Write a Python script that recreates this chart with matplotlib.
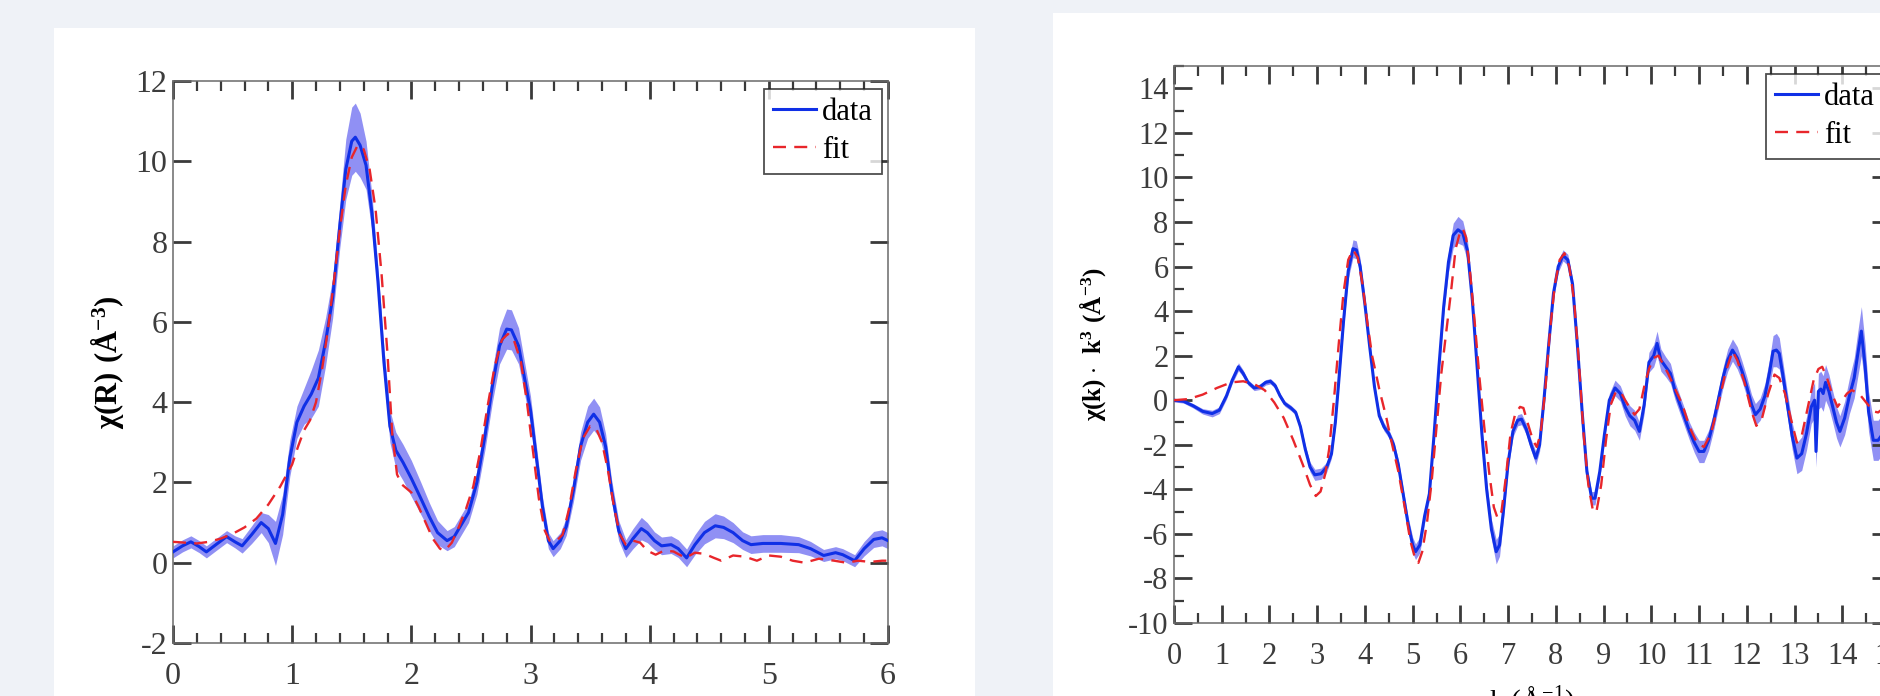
import numpy as np
import matplotlib
matplotlib.use("Agg")
import matplotlib.pyplot as plt
from matplotlib.patches import Rectangle
from matplotlib.ticker import MultipleLocator

plt.rcParams['font.family'] = ['Liberation Serif', 'DejaVu Serif']
plt.rcParams['mathtext.fontset'] = 'custom'
plt.rcParams['mathtext.rm'] = 'Liberation Serif'
plt.rcParams['mathtext.bf'] = 'Liberation Serif:bold'
plt.rcParams['axes.unicode_minus'] = False

# R-space: columns are R, |chi(R)| of data, half width of the shaded band
r_data = np.array([
    [0.00, 0.27, 0.15], [0.08, 0.42, 0.15], [0.15, 0.52, 0.15], [0.22, 0.40, 0.15],
    [0.28, 0.27, 0.15], [0.36, 0.45, 0.15], [0.45, 0.65, 0.15], [0.52, 0.52, 0.15],
    [0.58, 0.42, 0.18], [0.66, 0.70, 0.22], [0.74, 1.00, 0.25], [0.80, 0.85, 0.35],
    [0.86, 0.48, 0.55], [0.92, 1.20, 0.50], [0.98, 2.60, 0.45], [1.04, 3.50, 0.40],
    [1.10, 3.90, 0.45], [1.16, 4.20, 0.60], [1.22, 4.60, 0.70], [1.28, 5.50, 0.60],
    [1.34, 6.60, 0.50], [1.40, 8.40, 0.55], [1.45, 9.80, 0.75], [1.50, 10.50, 0.85],
    [1.53, 10.60, 0.85], [1.57, 10.40, 0.80], [1.62, 9.90, 0.60], [1.67, 8.70, 0.45],
    [1.72, 7.00, 0.35], [1.77, 5.00, 0.35], [1.82, 3.40, 0.40], [1.87, 2.80, 0.45],
    [1.93, 2.50, 0.45], [2.00, 2.10, 0.45], [2.08, 1.60, 0.40], [2.15, 1.15, 0.35],
    [2.22, 0.75, 0.30], [2.30, 0.55, 0.25], [2.36, 0.65, 0.25], [2.42, 0.95, 0.25],
    [2.48, 1.25, 0.25], [2.55, 2.00, 0.30], [2.62, 3.20, 0.35], [2.68, 4.40, 0.40],
    [2.74, 5.40, 0.45], [2.80, 5.82, 0.50], [2.84, 5.80, 0.50], [2.90, 5.40, 0.45],
    [2.95, 4.60, 0.40], [3.00, 3.80, 0.35], [3.05, 2.60, 0.30], [3.10, 1.40, 0.25],
    [3.15, 0.55, 0.20], [3.19, 0.35, 0.20], [3.25, 0.55, 0.20], [3.30, 0.90, 0.22],
    [3.36, 1.80, 0.28], [3.42, 2.90, 0.35], [3.48, 3.50, 0.40], [3.53, 3.70, 0.40],
    [3.58, 3.50, 0.38], [3.63, 2.90, 0.32], [3.68, 1.80, 0.28], [3.74, 0.80, 0.25],
    [3.80, 0.35, 0.22], [3.86, 0.60, 0.25], [3.93, 0.85, 0.28], [3.98, 0.75, 0.25],
    [4.04, 0.55, 0.22], [4.10, 0.42, 0.22], [4.18, 0.45, 0.22], [4.24, 0.35, 0.22],
    [4.31, 0.12, 0.22], [4.38, 0.45, 0.25], [4.46, 0.75, 0.28], [4.55, 0.92, 0.30],
    [4.62, 0.88, 0.28], [4.70, 0.75, 0.25], [4.78, 0.55, 0.22], [4.85, 0.45, 0.22],
    [4.95, 0.48, 0.22], [5.10, 0.48, 0.22], [5.25, 0.45, 0.20], [5.35, 0.35, 0.18],
    [5.46, 0.18, 0.15], [5.56, 0.25, 0.15], [5.62, 0.20, 0.15], [5.72, 0.05, 0.15],
    [5.80, 0.35, 0.18], [5.88, 0.58, 0.20], [5.95, 0.62, 0.20], [6.00, 0.55, 0.20],
])
r_x, r_y, r_hw = r_data.T

r_fit_x = [0.00, 0.10, 0.20, 0.30, 0.40, 0.50, 0.60, 0.70, 0.80, 0.90, 1.00, 1.05,
           1.10, 1.15, 1.20, 1.25, 1.30, 1.35, 1.40, 1.45, 1.50, 1.55, 1.60, 1.65,
           1.70, 1.75, 1.80, 1.84, 1.88, 1.92, 2.00, 2.06, 2.12, 2.18, 2.24, 2.28,
           2.34, 2.40, 2.46, 2.52, 2.58, 2.64, 2.70, 2.76, 2.81, 2.86, 2.92, 2.97,
           3.02, 3.07, 3.12, 3.16, 3.22, 3.27, 3.32, 3.38, 3.44, 3.50, 3.55, 3.60,
           3.65, 3.70, 3.75, 3.80, 3.86, 3.92, 3.98, 4.05, 4.12, 4.20, 4.30, 4.38,
           4.46, 4.54, 4.60, 4.70, 4.80, 4.90, 5.00, 5.10, 5.20, 5.30, 5.42, 5.55,
           5.65, 5.75, 5.85, 5.95, 6.00]
r_fit_y = [0.52, 0.50, 0.48, 0.52, 0.60, 0.72, 0.88, 1.10, 1.45, 1.90, 2.45, 2.90,
           3.30, 3.55, 4.00, 4.80, 5.80, 7.00, 8.30, 9.40, 10.10, 10.40, 10.30, 9.80,
           8.80, 7.20, 5.20, 3.20, 2.20, 1.95, 1.75, 1.40, 1.00, 0.60, 0.35, 0.30,
           0.50, 0.90, 1.35, 1.90, 2.80, 3.90, 4.90, 5.55, 5.70, 5.55, 5.00, 4.00,
           2.80, 1.60, 0.80, 0.55, 0.55, 0.70, 1.30, 2.30, 3.10, 3.40, 3.35, 3.00,
           2.30, 1.40, 0.70, 0.45, 0.55, 0.50, 0.30, 0.20, 0.30, 0.28, 0.12, 0.25,
           0.22, 0.12, 0.05, 0.18, 0.15, 0.05, 0.18, 0.15, 0.05, 0.00, 0.10, 0.05,
           0.00, 0.05, 0.02, 0.05, 0.05]

# k-space: columns are k, chi(k)*k^3 of data, half width of the shaded band
k_data = np.array([
    [0.00, 0.00, 0.08], [0.20, -0.05, 0.08], [0.40, -0.25, 0.10], [0.60, -0.50, 0.12],
    [0.80, -0.60, 0.15], [0.95, -0.45, 0.15], [1.10, 0.20, 0.15], [1.22, 0.90, 0.15],
    [1.35, 1.50, 0.18], [1.45, 1.20, 0.15], [1.55, 0.80, 0.12], [1.68, 0.55, 0.12],
    [1.80, 0.60, 0.12], [1.92, 0.80, 0.12], [2.02, 0.85, 0.12], [2.12, 0.65, 0.12],
    [2.22, 0.20, 0.12], [2.32, -0.15, 0.12], [2.45, -0.35, 0.12], [2.55, -0.55, 0.12],
    [2.65, -1.20, 0.15], [2.75, -2.20, 0.18], [2.85, -3.00, 0.22], [2.95, -3.35, 0.25],
    [3.08, -3.30, 0.25], [3.20, -3.00, 0.22], [3.30, -2.40, 0.20], [3.38, -1.00, 0.20],
    [3.45, 0.80, 0.22], [3.55, 3.50, 0.30], [3.65, 5.80, 0.35], [3.75, 6.80, 0.40],
    [3.82, 6.75, 0.40], [3.90, 6.00, 0.35], [4.00, 4.30, 0.30], [4.10, 2.40, 0.25],
    [4.20, 0.60, 0.20], [4.30, -0.70, 0.18], [4.40, -1.20, 0.18], [4.50, -1.50, 0.18],
    [4.60, -2.00, 0.20], [4.70, -2.90, 0.22], [4.80, -4.20, 0.25], [4.90, -5.50, 0.30],
    [5.00, -6.50, 0.35], [5.06, -6.80, 0.35], [5.15, -6.50, 0.35], [5.25, -5.20, 0.30],
    [5.35, -4.20, 0.28], [5.45, -1.50, 0.28], [5.55, 1.50, 0.30], [5.65, 4.20, 0.35],
    [5.75, 6.20, 0.45], [5.85, 7.40, 0.55], [5.95, 7.65, 0.60], [6.05, 7.50, 0.55],
    [6.15, 6.70, 0.45], [6.25, 4.50, 0.35], [6.35, 1.50, 0.30], [6.45, -1.50, 0.30],
    [6.55, -4.00, 0.35], [6.65, -5.80, 0.45], [6.75, -6.80, 0.55], [6.82, -6.50, 0.50],
    [6.90, -5.00, 0.40], [7.00, -2.80, 0.30], [7.10, -1.40, 0.25], [7.20, -0.90, 0.25],
    [7.28, -0.85, 0.25], [7.38, -1.30, 0.25], [7.48, -2.00, 0.25], [7.58, -2.60, 0.30],
    [7.66, -2.00, 0.28], [7.75, 0.00, 0.25], [7.85, 2.50, 0.25], [7.95, 4.80, 0.25],
    [8.05, 6.00, 0.25], [8.15, 6.50, 0.25], [8.25, 6.30, 0.25], [8.35, 5.20, 0.25],
    [8.45, 2.50, 0.25], [8.55, -0.50, 0.25], [8.65, -3.20, 0.25], [8.75, -4.40, 0.30],
    [8.82, -4.40, 0.30], [8.92, -3.20, 0.28], [9.02, -1.50, 0.28], [9.12, 0.00, 0.30],
    [9.24, 0.55, 0.35], [9.35, 0.30, 0.35], [9.45, -0.30, 0.40], [9.55, -0.70, 0.45],
    [9.65, -0.90, 0.45], [9.75, -1.40, 0.40], [9.85, -0.20, 0.40], [9.95, 1.70, 0.45],
    [10.05, 2.00, 0.50], [10.12, 2.55, 0.55], [10.20, 1.80, 0.50], [10.30, 1.50, 0.45],
    [10.40, 1.20, 0.45], [10.50, 0.40, 0.40], [10.60, -0.20, 0.40], [10.70, -0.80, 0.40],
    [10.80, -1.40, 0.40], [10.90, -1.90, 0.45], [11.00, -2.30, 0.50], [11.10, -2.30, 0.50],
    [11.20, -1.80, 0.45], [11.30, -1.00, 0.40], [11.40, 0.00, 0.40], [11.50, 1.00, 0.45],
    [11.60, 1.80, 0.50], [11.70, 2.25, 0.50], [11.80, 1.90, 0.50], [11.90, 1.30, 0.45],
    [12.00, 0.60, 0.45], [12.10, -0.20, 0.45], [12.18, -0.65, 0.50], [12.28, -0.40, 0.50],
    [12.38, 0.20, 0.55], [12.48, 1.30, 0.60], [12.55, 2.20, 0.70], [12.62, 2.25, 0.75],
    [12.68, 2.10, 0.70], [12.75, 1.20, 0.60], [12.85, -0.20, 0.55], [12.95, -1.60, 0.60],
    [13.05, -2.60, 0.70], [13.15, -2.40, 0.75], [13.25, -1.50, 0.75], [13.35, -0.30, 0.75],
    [13.42, 0.00, 0.80], [13.45, -2.30, 0.70], [13.50, 0.40, 0.80], [13.55, 0.50, 0.80],
    [13.60, 0.30, 0.80], [13.65, 0.80, 0.80], [13.72, 0.40, 0.75], [13.80, -0.30, 0.70],
    [13.88, -1.00, 0.70], [13.95, -1.40, 0.70], [14.05, -0.80, 0.75], [14.15, 0.20, 0.80],
    [14.25, 1.00, 0.90], [14.32, 2.00, 1.00], [14.40, 3.10, 1.10], [14.48, 1.50, 1.00],
    [14.55, -0.50, 0.90], [14.65, -1.80, 0.90], [14.75, -1.80, 0.90], [14.85, -1.50, 0.90],
    [15.00, -1.60, 0.90],
])
k_x, k_y, k_hw = k_data.T

k_fit_x = [0.00, 0.30, 0.60, 0.90, 1.20, 1.45, 1.70, 1.90, 2.10, 2.30, 2.50, 2.70,
           2.85, 2.97, 3.07, 3.17, 3.25, 3.35, 3.45, 3.55, 3.65, 3.75, 3.85, 3.95,
           4.05, 4.15, 4.30, 4.45, 4.55, 4.70, 4.85, 4.95, 5.05, 5.12, 5.20, 5.30,
           5.40, 5.50, 5.60, 5.70, 5.80, 5.90, 6.00, 6.05, 6.12, 6.20, 6.30, 6.40,
           6.50, 6.60, 6.70, 6.78, 6.86, 6.95, 7.05, 7.15, 7.25, 7.32, 7.42, 7.52,
           7.60, 7.68, 7.78, 7.88, 7.98, 8.08, 8.18, 8.28, 8.38, 8.48, 8.58, 8.68,
           8.78, 8.85, 8.95, 9.05, 9.15, 9.25, 9.35, 9.45, 9.55, 9.65, 9.75, 9.85,
           9.95, 10.05, 10.15, 10.25, 10.35, 10.50, 10.65, 10.80, 10.95, 11.10, 11.25, 11.40,
           11.55, 11.70, 11.80, 11.95, 12.10, 12.20, 12.32, 12.45, 12.58, 12.68, 12.80, 12.92,
           13.05, 13.15, 13.28, 13.40, 13.50, 13.58, 13.68, 13.80, 13.90, 14.00, 14.10, 14.20,
           14.35, 14.50, 14.65, 14.75, 14.90, 15.00]
k_fit_y = [0.00, 0.05, 0.25, 0.55, 0.80, 0.85, 0.70, 0.45, -0.10, -0.80, -1.80, -2.90,
           -3.80, -4.30, -4.10, -3.30, -2.20, 0.00, 2.50, 4.80, 6.30, 6.75, 6.40, 5.20,
           3.50, 2.00, 0.50, -0.80, -1.80, -3.20, -5.00, -6.30, -7.10, -7.30, -6.80, -5.50,
           -3.60, -1.20, 1.20, 3.00, 4.80, 6.80, 7.60, 7.70, 7.30, 5.80, 3.50, 1.00,
           -1.20, -3.20, -4.80, -5.30, -5.00, -3.50, -1.50, -0.60, -0.30, -0.35, -1.10, -1.80,
           -2.10, -1.50, 0.50, 3.20, 5.20, 6.30, 6.60, 6.00, 4.50, 1.80, -1.50, -3.80,
           -5.00, -5.00, -3.80, -1.80, -0.20, 0.35, 0.40, 0.00, -0.35, -0.65, -0.40, 0.60,
           1.40, 1.90, 2.00, 1.60, 1.20, 0.50, -0.20, -1.20, -1.90, -2.10, -1.50, -0.20,
           1.20, 2.20, 1.80, 0.80, -0.50, -1.15, -0.80, 0.30, 1.15, 1.00, 0.30, -0.80,
           -1.90, -1.60, -0.30, 0.90, 1.40, 1.50, 1.00, 0.20, -0.30, 0.00, 0.30, 0.45,
           0.30, -0.10, -0.50, -0.55, -0.30, -0.20]

BG = '#eff2f7'
DATA_C = '#1030e6'
FIT_C = '#e8262b'
BAND_C = '#9090f4'
SPINE_C = '#6a6a6a'
TICK_C = '#3a3a3a'

W, H = 1880, 696
fig = plt.figure(figsize=(W / 100, H / 100), dpi=100, facecolor=BG)

# white cards behind each panel (pixel boxes converted to figure fractions)
for x0, y0, x1, y1 in [(54, 28, 975, 696), (1053, 13, 1880, 696)]:
    fig.patches.append(Rectangle((x0 / W, 1 - y1 / H), (x1 - x0) / W, (y1 - y0) / H,
                                 transform=fig.transFigure, facecolor='white',
                                 edgecolor='none', zorder=-5))

ax1 = fig.add_axes([173 / W, 1 - 643 / H, 715 / W, 562 / H])
ax2 = fig.add_axes([1174 / W, 1 - 623 / H, 716 / W, 557 / H])
ax1.set_zorder(2)
ax2.set_zorder(2)


def style_axes(ax, size):
    ax.set_facecolor('white')
    for s in ax.spines.values():
        s.set_color(SPINE_C)
        s.set_linewidth(1.1)
    ax.tick_params(which='both', direction='in', top=True, right=True,
                   color=TICK_C, labelcolor='#3c3c3c', labelsize=size)
    ax.tick_params(which='major', length=13, width=2.0)
    ax.tick_params(which='minor', length=7, width=1.6)
    ax.tick_params(axis='x', pad=14)
    ax.tick_params(axis='y', pad=4)


def add_legend(ax, x0, y0):
    leg = ax.legend(loc='upper left', bbox_to_anchor=(x0 / W, 1 - y0 / H),
                    bbox_transform=fig.transFigure, fontsize=22, frameon=True,
                    fancybox=False, borderaxespad=0, borderpad=0.3,
                    handlelength=1.4, handletextpad=0.2, labelspacing=0.28)
    leg.get_frame().set_edgecolor('#222222')
    leg.get_frame().set_linewidth(1.3)
    return leg


# left panel: R space
ax1.fill_between(r_x, r_y - r_hw, r_y + r_hw, color=BAND_C, lw=0, zorder=1)
ax1.plot(r_x, r_y, color=DATA_C, lw=2.2, label='data', zorder=3)
ax1.plot(r_fit_x, r_fit_y, color=FIT_C, lw=1.7, ls=(0, (5.5, 3.5)), label='fit', zorder=4)
ax1.set_xlim(0, 6)
ax1.set_ylim(-2, 12)
ax1.xaxis.set_major_locator(MultipleLocator(1))
ax1.xaxis.set_minor_locator(MultipleLocator(0.2))
ax1.yaxis.set_major_locator(MultipleLocator(2))
style_axes(ax1, 23)
ax1.set_ylabel(r'$\mathbf{\chi(R)\ (\AA^{-3})}$', fontsize=22)
ax1.yaxis.set_label_coords(-0.066, 0.5)
ax1.set_xlabel(r'R ($\mathrm{\AA}$)', fontsize=22, va='baseline')
ax1.xaxis.set_label_coords(0.5, (643 - 728) / 562)
add_legend(ax1, 764, 89)

# right panel: k space
ax2.fill_between(k_x, k_y - k_hw, k_y + k_hw, color=BAND_C, lw=0, zorder=1)
ax2.plot(k_x, k_y, color=DATA_C, lw=2.2, label='data', zorder=3)
ax2.plot(k_fit_x, k_fit_y, color=FIT_C, lw=1.7, ls=(0, (5.5, 3.5)), label='fit', zorder=4)
ax2.set_xlim(0, 15)
ax2.set_ylim(-10, 15)
ax2.set_yticks(np.arange(-10, 15, 2))
ax2.xaxis.set_major_locator(MultipleLocator(1))
ax2.xaxis.set_minor_locator(MultipleLocator(0.5))
ax2.yaxis.set_minor_locator(MultipleLocator(1))
style_axes(ax2, 22)
ax2.set_ylabel(r'$\mathbf{\chi(k)\cdot\ k^3\ (\AA^{-3})}$', fontsize=18)
ax2.yaxis.set_label_coords(-0.092, 0.5)
ax2.set_xlabel(r'k ($\mathrm{\AA}^{-1}$)', fontsize=21, va='baseline')
ax2.xaxis.set_label_coords(0.5, (623 - 710) / 557)
add_legend(ax2, 1766, 74)

fig.savefig('out.png', dpi=100, facecolor=BG)
